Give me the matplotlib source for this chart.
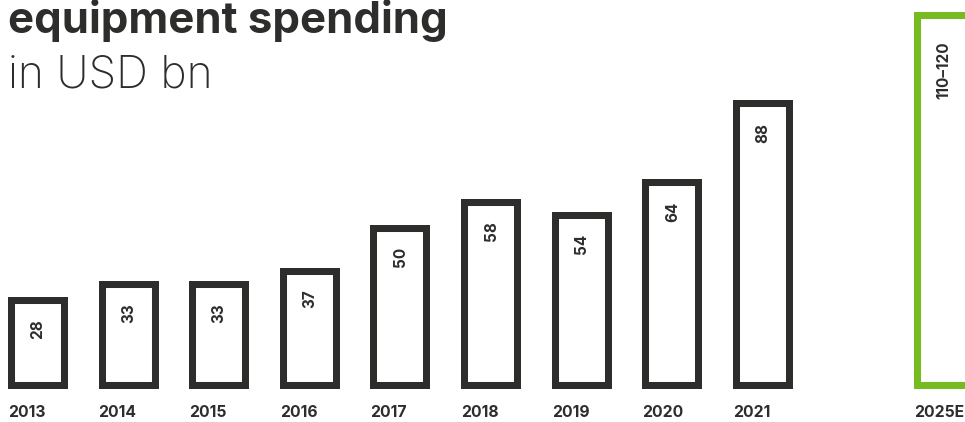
import numpy as np
import matplotlib.pyplot as plt

years = ['2013', '2014', '2015', '2016', '2017', '2018', '2019', '2020', '2021']
values = [28, 33, 33, 37, 50, 58, 54, 64, 88]
forecast_label = '2025E'
forecast_value = 115  # shown as a range 110-120
forecast_text = '110\u2013120'

dark = '#2d2d2b'
green = '#76bc21'

fig = plt.figure(figsize=(9.65, 4.22), dpi=100)
ax = fig.add_axes([0, 0, 1, 1])
ax.set_xlim(-0.419, 10.23)
ax.set_ylim(-10.06, 118.6)
ax.axis('off')

width = 0.662
xs = np.arange(len(years))
x_fc = len(years) + 1

bars = ax.bar(xs, values, width=width, facecolor='none', edgecolor=dark, linewidth=10.1)
fc = ax.bar([x_fc], [forecast_value], width=width, facecolor='none', edgecolor=green, linewidth=10.1)
# keep the border inside each bar
for b in list(bars) + list(fc):
    b.set_clip_path(b)
    b.set_joinstyle('miter')

lab_font = dict(family='Inter', fontweight='bold', fontsize=11, color=dark)
for x, v in zip(xs, values):
    ax.annotate(str(v), (x, v), xytext=(0, -16), textcoords='offset points',
                rotation=90, ha='center', va='top', **lab_font)
ax.annotate(forecast_text, (x_fc, forecast_value), xytext=(0, -21), textcoords='offset points',
            rotation=90, ha='center', va='top', **lab_font)

trans = ax.get_xaxis_transform()
for x, y in zip(list(xs) + [x_fc], years + [forecast_label]):
    ax.text(x - width / 2, 0.005, y, transform=trans, ha='left', va='bottom',
            family='Inter', fontweight='bold', fontsize=11.3, color=dark)

fig.text(0.008, 1 - 33 / 422, 'equipment spending', ha='left', va='baseline',
         family='Inter', fontweight='bold', fontsize=31.5, color=dark)
fig.text(0.008, 1 - 87 / 422, 'in USD bn', ha='left', va='baseline',
         family='Inter', fontweight='light', fontsize=32, color=dark)

fig.savefig('out.png', dpi=100)
